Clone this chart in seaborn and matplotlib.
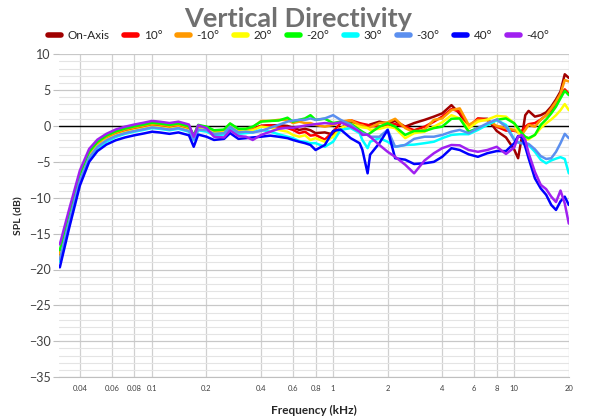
import matplotlib
matplotlib.use("Agg")

import pandas as pd

import matplotlib.pyplot as plt
from matplotlib.ticker import FixedLocator, MultipleLocator, NullFormatter

import seaborn as sns


freq_khz = [0.031, 0.035, 0.04, 0.045, 0.05, 0.056, 0.063, 0.071, 0.08, 0.09,
            0.1, 0.11, 0.125, 0.14, 0.16, 0.17, 0.18, 0.2, 0.22, 0.25,
            0.27, 0.3, 0.33, 0.36, 0.4, 0.45, 0.5, 0.56, 0.6, 0.65,
            0.7, 0.75, 0.8, 0.9, 1.0, 1.1, 1.25, 1.4, 1.45, 1.55,
            1.6, 1.8, 2.0, 2.2, 2.5, 2.8, 3.2, 3.6, 4.0, 4.5,
            5.0, 5.6, 6.3, 7.1, 8.0, 9.0, 10, 10.5, 11, 11.5,
            12, 13, 14, 15, 16, 17, 18, 19, 20]

on_axis = [-18.1, -12.8, -7.2, -4.0, -2.6, -1.7, -1.1, -0.7, -0.4, -0.15,
           0.1, 0.0, -0.2, 0.0, -0.4, -1.6, -0.2, -0.4, -0.9, -0.8,
           0.1, -0.7, -0.6, -0.5, 0.0, 0.1, 0.1, 0.0, -0.25, -0.55,
           -0.4, -0.6, -1.0, -0.9, -1.2, -0.3, 0.4, 0.25, 0.05, -0.1,
           0.2, 0.6, 0.35, 0.7, -0.1, 0.4, 0.85, 1.3, 1.75, 2.9,
           1.7, -0.3, 1.0, 1.0, -0.7, -1.6, -3.3, -4.5, -1.6, 1.5,
           2.1, 1.3, 1.5, 1.9, 2.7, 3.7, 4.8, 7.2, 6.7]

up_10 = [-18.2, -12.9, -7.3, -4.1, -2.7, -1.8, -1.2, -0.8, -0.5, -0.25,
         0.0, -0.1, -0.3, -0.1, -0.5, -1.7, -0.3, -0.4, -0.9, -0.8,
         0.1, -0.6, -0.5, -0.4, 0.0, 0.1, -0.1, -0.3, -0.55, -1.0,
         -0.8, -1.35, -1.25, -1.9, -0.8, 0.4, 0.8, 0.4, 0.3, 0.15,
         0.05, -0.1, 0.15, 0.25, -0.1, -0.6, -0.1, 0.6, 1.3, 2.35,
         2.0, -0.1, 1.05, 0.85, -0.1, -0.65, -0.65, -0.8, -0.7, -0.1,
         0.25, 0.4, 0.9, 1.5, 2.2, 3.25, 4.1, 5.1, 4.5]

down_10 = [-17.7, -12.4, -6.9, -3.8, -2.4, -1.5, -0.9, -0.5, -0.2, 0.05,
           0.3, 0.2, 0.0, 0.2, -0.2, -1.4, 0.0, -0.2, -0.7, -0.6,
           0.3, -0.5, -0.4, -0.2, 0.7, 0.7, 0.85, 0.85, 0.4, 0.6,
           0.4, 0.4, 0.15, -0.1, 0.15, 0.6, 0.8, 0.15, 0.1, -0.25,
           -0.2, 0.4, 0.5, 1.0, -0.3, -0.9, -0.5, 0.85, 1.05, 2.2,
           2.45, 0.15, 0.85, 0.8, 0.0, -0.3, -0.55, -0.9, -1.2, -0.55,
           0.15, -0.1, 0.85, 1.5, 2.45, 3.4, 4.5, 6.4, 6.2]

up_20 = [-18.5, -13.1, -7.5, -4.3, -2.8, -1.9, -1.3, -0.9, -0.6, -0.35,
         -0.1, -0.2, -0.4, -0.2, -0.6, -1.8, -0.4, -0.5, -1.0, -0.9,
         0.0, -0.8, -0.7, -0.6, -0.1, -0.25, -0.55, -0.8, -1.25, -1.5,
         -1.3, -1.95, -1.7, -2.2, -1.5, -0.3, 0.3, -0.1, -0.2, -0.3,
         -0.55, -0.4, -0.1, -0.3, -1.7, -1.0, -0.8, -0.1, 0.5, 1.5,
         1.05, -0.3, 0.6, 0.9, 1.4, 1.3, 0.37, -0.8, -1.7, -1.95,
         -1.85, -1.25, -0.3, 0.37, 0.9, 1.5, 2.2, 3.05, 2.2]

down_20 = [-17.3, -12.1, -6.7, -3.6, -2.2, -1.35, -0.75, -0.35, -0.05, 0.2,
           0.45, 0.35, 0.15, 0.35, -0.05, -1.3, 0.15, -0.1, -0.6, -0.5,
           0.35, -0.4, -0.4, -0.1, 0.6, 0.7, 0.75, 1.15, 0.6, 0.85,
           1.05, 1.5, 0.85, 1.0, 0.4, 0.6, 0.3, -0.55, -0.8, -1.25,
           -1.0, -0.1, 0.37, -0.1, -1.25, -0.7, -0.7, -0.3, -0.1, 1.0,
           1.05, -0.8, -0.3, 0.15, 0.85, 1.05, 0.37, -0.3, -1.0, -1.5,
           -1.7, -1.25, 0.15, 0.9, 1.75, 2.7, 3.85, 4.9, 4.3]

up_30 = [-18.9, -13.4, -7.8, -4.6, -3.1, -2.2, -1.55, -1.1, -0.8, -0.55,
         -0.3, -0.4, -0.6, -0.4, -0.8, -2.0, -0.6, -0.8, -1.3, -1.2,
         -0.3, -1.1, -1.0, -0.9, -0.55, -0.8, -1.15, -1.5, -1.7, -2.1,
         -2.2, -2.4, -2.4, -2.9, -2.2, -0.55, -0.3, -1.0, -1.95, -3.1,
         -2.2, -1.7, -2.2, -2.9, -2.65, -2.6, -2.4, -2.2, -1.7, -1.25,
         -1.15, -1.15, -0.55, 0.15, 0.8, 0.15, -1.85, -2.3, -2.4, -2.4,
         -2.65, -3.6, -4.7, -5.2, -4.8, -4.55, -4.35, -4.6, -6.6]

down_30 = [-18.6, -13.2, -7.6, -4.4, -2.9, -2.0, -1.4, -1.0, -0.7, -0.45,
           -0.2, -0.3, -0.5, -0.3, -0.7, -1.9, -0.5, -0.6, -1.1, -1.0,
           -0.1, -0.9, -0.8, -0.9, -0.7, -0.25, 0.15, 0.6, 0.75, 0.85,
           0.85, 1.05, 0.85, 1.05, 1.5, 0.85, 0.2, -0.8, -1.0, -1.25,
           -1.5, -1.5, -0.55, -2.9, -2.65, -1.8, -1.5, -1.5, -1.25, -0.8,
           -0.55, -1.0, -0.3, 0.37, 0.9, -0.1, -1.95, -2.3, -2.4, -2.4,
           -2.5, -3.25, -4.2, -4.6, -4.5, -3.6, -2.4, -1.1, -1.7]

up_40 = [-19.7, -14.1, -8.3, -5.0, -3.5, -2.6, -2.0, -1.6, -1.3, -1.05,
         -0.8, -0.9, -1.1, -0.9, -1.3, -2.9, -1.2, -1.5, -1.95, -1.8,
         -1.0, -1.8, -1.7, -1.6, -1.5, -1.35, -1.5, -1.7, -1.95, -2.2,
         -2.4, -2.65, -3.35, -2.65, -0.7, -0.5, -1.7, -2.4, -3.3, -6.6,
         -4.0, -2.4, -0.55, -4.5, -4.7, -5.3, -5.2, -5.0, -4.3, -3.1,
         -3.35, -3.95, -4.3, -3.8, -3.5, -3.5, -2.4, -1.4, -1.6, -2.9,
         -4.5, -7.3, -8.7, -9.6, -11.0, -11.7, -10.5, -9.85, -11.0]

down_40 = [-16.5, -11.5, -6.2, -3.2, -1.9, -1.1, -0.5, -0.1, 0.2, 0.45,
           0.7, 0.6, 0.4, 0.6, 0.2, -1.5, 0.1, -0.3, -1.5, -1.6,
           -0.6, -1.4, -1.5, -1.95, -1.25, -0.8, -0.4, -0.25, -0.25, -0.1,
           0.05, 0.15, 0.25, 0.4, 0.3, 0.5, -0.1, -0.8, -1.25, -1.2,
           -1.5, -2.65, -3.6, -4.3, -5.4, -6.6, -4.8, -3.8, -3.1, -2.65,
           -2.7, -3.35, -3.6, -3.35, -2.9, -3.9, -3.0, -1.5, -1.25, -1.95,
           -3.8, -6.4, -8.2, -8.8, -9.85, -10.6, -9.0, -10.8, -13.6]

angles = ["On-Axis", "10°", "-10°", "20°", "-20°", "30°", "-30°", "40°", "-40°"]
colors = ["#A00000", "#FF0000", "#FF9900", "#FFFF00", "#00FF00",
          "#00FFFF", "#5B8FEF", "#0000FF", "#A020F0"]

x_ticks = [0.04, 0.06, 0.08, 0.1, 0.2, 0.4, 0.6, 0.8, 1, 2, 4, 6, 8, 10, 20]
x_tick_labels = ["0.04", "0.06", "0.08", "0.1", "0.2", "0.4", "0.6", "0.8",
                 "1", "2", "4", "6", "8", "10", "20"]


def build_frame():
    series = [on_axis, up_10, down_10, up_20, down_20, up_30, down_30, up_40, down_40]
    frames = []
    for name, values in zip(angles, series):
        frames.append(pd.DataFrame({"Frequency": freq_khz, "SPL": values, "Angle": name}))
    return pd.concat(frames, ignore_index=True)


def show_directivity_plot(df):
    sns.set_style("white")
    plt.rcParams["font.family"] = ["Lato", "DejaVu Sans"]

    fig = plt.figure(figsize=(6, 4.2), dpi=100)
    ax = fig.add_axes([0.098, 0.102, 0.85, 0.769])

    ax.set_xscale("log")
    ax.set_xlim(0.0306, 20)
    ax.set_ylim(-35, 10)

    # excel style grid: fine 1 dB lines, stronger every 5 dB
    ax.yaxis.set_major_locator(MultipleLocator(5))
    ax.yaxis.set_minor_locator(MultipleLocator(1))
    ax.grid(which="minor", axis="y", color="#e4e4e4", linewidth=0.8)
    ax.grid(which="major", axis="y", color="#c8c8c8", linewidth=0.9)
    ax.xaxis.set_major_locator(FixedLocator(x_ticks))
    ax.xaxis.set_minor_locator(FixedLocator([]))
    ax.xaxis.set_minor_formatter(NullFormatter())
    ax.set_xticklabels(x_tick_labels)
    ax.grid(which="major", axis="x", color="#d0d0d0", linewidth=0.9)
    ax.set_axisbelow(True)

    ax.axhline(0, color="black", linewidth=1.0, zorder=1)

    sns.lineplot(
        data=df,
        x="Frequency",
        y="SPL",
        hue="Angle",
        palette=colors,
        estimator=None,
        sort=False,
        linewidth=1.8,
        ax=ax,
    )
    for line in ax.get_lines():
        line.set_solid_joinstyle("round")

    for side in ["top", "right", "left"]:
        ax.spines[side].set_visible(False)
    ax.spines["bottom"].set_color("#bfbfbf")

    ax.tick_params(axis="y", which="major", labelsize=9, colors="#404040",
                   length=4, left=True, color="#bfbfbf", pad=2)
    ax.tick_params(axis="y", which="minor", left=False)
    ax.tick_params(axis="x", labelsize=5.5, colors="#404040", length=0, pad=6)

    ax.set_xlabel("Frequency (kHz)", fontsize=8.5, fontweight="bold", color="#262626", labelpad=9)
    ax.set_ylabel("SPL (dB)", fontsize=7.5, fontweight="bold", color="#262626", labelpad=4)

    sns.move_legend(
        ax, "center",
        bbox_to_anchor=(0.47, 1.058),
        ncol=9,
        frameon=False,
        title=None,
        fontsize=8.5,
        handlelength=1.1,
        handletextpad=0.6,
        columnspacing=1.2,
    )
    for handle in ax.get_legend().legend_handles:
        handle.set_linewidth(4)

    fig.text(0.496, 0.955, "Vertical Directivity", ha="center", va="center",
             fontsize=19.5, fontweight="bold", color="#707070")

    fig.savefig("out.png", dpi=100)


df = build_frame()
show_directivity_plot(df)
